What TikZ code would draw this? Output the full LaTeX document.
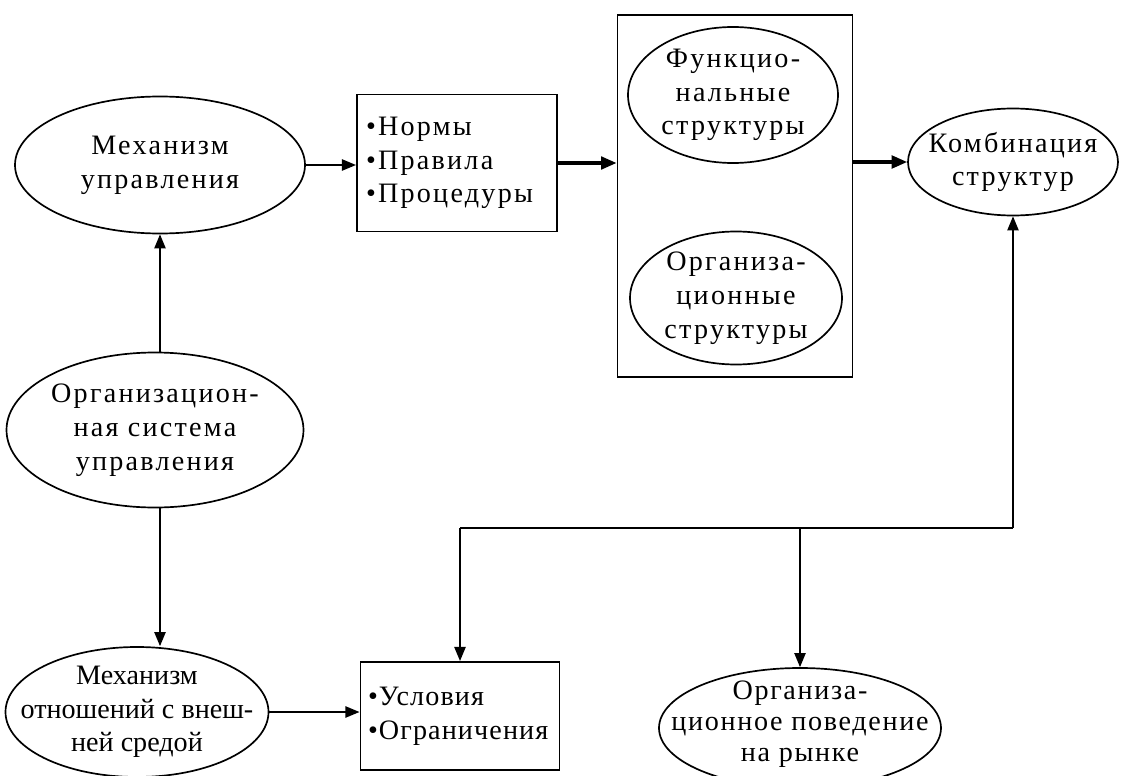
\documentclass[tikz,border=0pt]{standalone}
\usepackage{fontspec}
\setmainfont{Liberation Serif}[LetterSpace=8]
\usetikzlibrary{shapes.geometric,arrows.meta}
\begin{document}
\begin{tikzpicture}[x=0.025cm,y=-0.025cm,
  txt/.style={font=\fontsize{20}{24}\selectfont,align=center,inner sep=0pt},
  tight/.style n args={2}{font=\fontsize{20}{#1}\selectfont\addfontfeatures{LetterSpace=#2}},
  oval/.style args={#1 by #2}{draw,ellipse,line width=1.2pt,inner sep=0pt,
    minimum width=#1*0.025cm,minimum height=#2*0.025cm},
  box/.style={txt,draw,rectangle,line width=1.4pt,align=left},
  arr/.style={line width=1.1pt,-{Triangle[length=10pt,width=8pt]}},
  fat/.style={line width=2.2pt,-{Triangle[length=11pt,width=9pt]}}]
\useasboundingbox (0,0) rectangle (1121,776);
\node[oval=290 by 137,label={[txt]center:Механизм\\управления}] (mech) at (160,165) {};
\node[box,minimum width=200*0.025cm,minimum height=137*0.025cm,text width=182*0.025cm] (norms) at (457,163) {•Нормы\\•Правила\\•Процедуры};
\node[draw,line width=1.4pt,minimum width=235*0.025cm,minimum height=362*0.025cm] (struct) at (735,196) {};
\node[oval=210 by 136,label={[txt]center:Функцио-\\нальные\\структуры}] (func) at (733,95) {};
\node[oval=212 by 133,label={[txt]center:Организа-\\ционные\\структуры}] (orgst) at (736,298) {};
\node[oval=210 by 107,label={[txt]center:Комбинация\\структур}] (comb) at (1013,162) {};
\node[oval=297 by 155,label={[txt]center:Организацион-\\ная система\\управления}] (orgsys) at (155,430) {};
\node[oval=263 by 130,label={[txt,tight={24}{0}]center:Механизм\\отношений с внеш-\\ней средой}] (ext) at (137,712) {};
\node[box,tight={24}{4},minimum width=199*0.025cm,minimum height=108*0.025cm,text width=184*0.025cm] (cond) at (460,716) {•Условия\\•Ограничения};
\node[oval=282 by 120,label={[txt,tight={22}{6},yshift=3pt]center:Организа-\\ционное поведение\\на рынке}] (behav) at (800,728) {};
\coordinate (bus) at (1013,528);
\coordinate (busl) at (460,528);
\coordinate (busm) at (800,528);
\draw[arr] (mech.east) -- (mech.east -| norms.west);
\draw[fat] (norms.east) -- (norms.east -| struct.west);
\draw[fat] (struct.east |- comb.west) -- (comb.west);
\draw[arr] (mech.south |- orgsys.north) -- (mech.south);
\draw[arr] (mech.south |- orgsys.south) -- (mech.south |- ext.north);
\draw[arr] (ext.east) -- (ext.east -| cond.west);
\draw[arr] (bus) -- (comb);
\draw[line width=1.1pt] (busl) -- (bus);
\draw[arr] (busl) -- (cond);
\draw[arr] (busm) -- (behav);
\end{tikzpicture}
\end{document}
